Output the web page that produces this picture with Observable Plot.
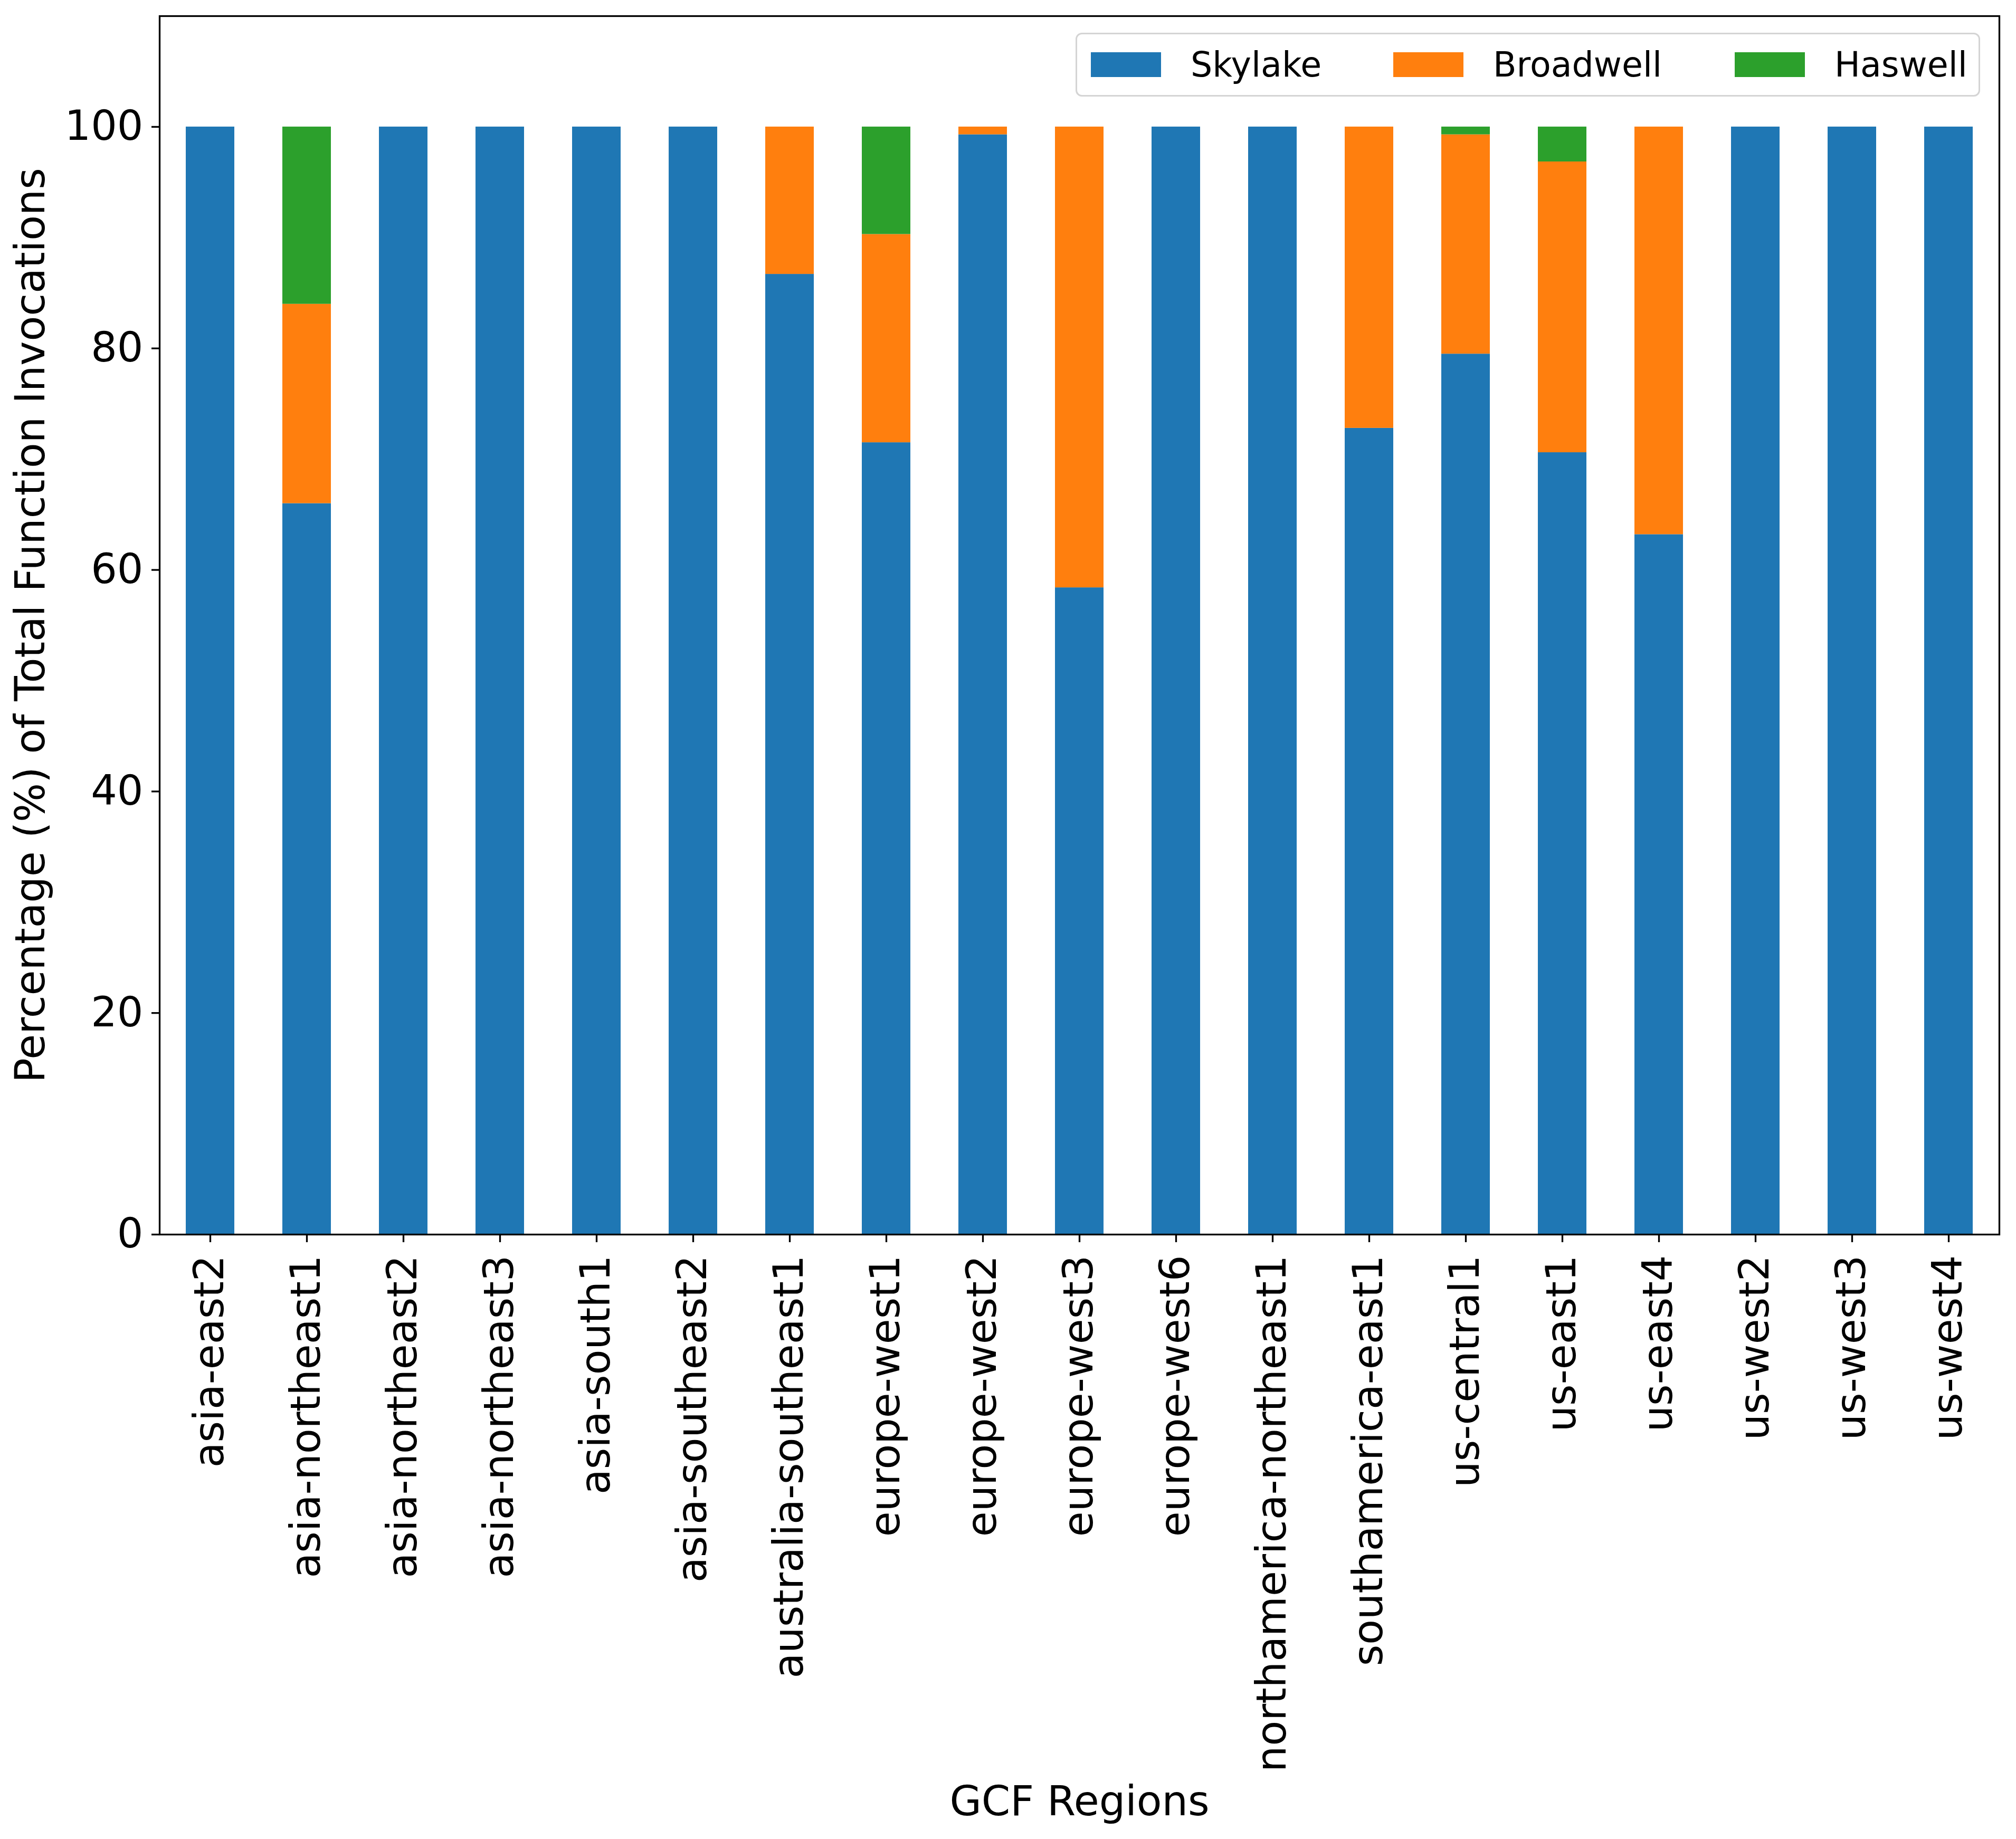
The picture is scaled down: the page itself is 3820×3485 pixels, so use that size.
<!DOCTYPE html>
<html>
<head>
<meta charset="utf-8">
<script src="https://cdn.jsdelivr.net/npm/d3@7"></script>
<script src="https://cdn.jsdelivr.net/npm/@observablehq/plot@0.6"></script>
<style>
  html, body { margin: 0; padding: 0; background: white; }
  #wrap { position: relative; width: 3820px; height: 3485px; font-family: "DejaVu Sans", sans-serif; }
  #legend { position: absolute; left: 2038px; top: 62px; width: 1708px; height: 115px;
    border: 3px solid #d4d4d4; border-radius: 12px; background: rgba(255,255,255,0.8); }
  .item { position: absolute; top: 0; height: 115px; display: flex; align-items: center; }
  .sw { width: 133px; height: 47px; }
  .lb { margin-left: 56px; font-size: 65px; color: black; white-space: nowrap; }
</style>
</head>
<body>
<div id="wrap"></div>
<script>
const regions = ["asia-east2","asia-northeast1","asia-northeast2","asia-northeast3","asia-south1","asia-southeast2","australia-southeast1","europe-west1","europe-west2","europe-west3","europe-west6","northamerica-northeast1","southamerica-east1","us-central1","us-east1","us-east4","us-west2","us-west3","us-west4"];
const series = ["Skylake","Broadwell","Haswell"];
const colors = ["#1f77b4","#ff7f0e","#2ca02c"];
const skylake   = [100, 66.0, 100, 100, 100, 100, 86.7, 71.5, 99.3, 58.4, 100, 100, 72.8, 79.5, 70.6, 63.2, 100, 100, 100];
const broadwell = [0, 18.0, 0, 0, 0, 0, 13.3, 18.8, 0.7, 41.6, 0, 0, 27.2, 19.8, 26.25, 36.8, 0, 0, 0];
const haswell   = [0, 16.0, 0, 0, 0, 0, 0, 9.7, 0, 0, 0, 0, 0, 0.7, 3.15, 0, 0, 0, 0];
const yTicks = [0, 20, 40, 60, 80, 100];

const seriesValues = [skylake, broadwell, haswell];
const data = [];
regions.forEach((r, i) => {
  series.forEach((s, k) => {
    data.push({region: r, cpu: s, value: seriesValues[k][i]});
  });
});

const chart = Plot.plot({
  width: 3820,
  height: 3485,
  marginLeft: 302,
  marginRight: 32,
  marginTop: 30,
  marginBottom: 1146,
  style: {fontFamily: "DejaVu Sans", background: "white", color: "black"},
  x: {domain: regions, paddingInner: 0.5, paddingOuter: 0.25},
  y: {domain: [0, 110]},
  color: {domain: series, range: colors},
  marks: [
    Plot.barY(data, {x: "region", y: "value", fill: "cpu"}),
    Plot.axisY({ticks: yTicks, tickSize: 15, tickPadding: 16, fontSize: 78, strokeWidth: 3.3,
      label: "Percentage (%) of Total Function Invocations", labelAnchor: "center", labelOffset: 274, labelArrow: "none"}),
    Plot.axisX({tickRotate: -90, tickSize: 15, tickPadding: 24, fontSize: 78, strokeWidth: 3.3,
      label: "GCF Regions", labelAnchor: "center", labelOffset: 1100, labelArrow: "none"}),
    Plot.frame({stroke: "black", strokeWidth: 3.3})
  ]
});

const wrap = document.getElementById("wrap");
wrap.appendChild(chart);

const legend = document.createElement("div");
legend.id = "legend";
const lefts = [26, 599, 1246];
series.forEach((s, k) => {
  const item = document.createElement("div");
  item.className = "item";
  item.style.left = lefts[k] + "px";
  const sw = document.createElement("div");
  sw.className = "sw";
  sw.style.background = colors[k];
  const lb = document.createElement("span");
  lb.className = "lb";
  lb.textContent = s;
  item.appendChild(sw);
  item.appendChild(lb);
  legend.appendChild(item);
});
wrap.appendChild(legend);
</script>
</body>
</html>
